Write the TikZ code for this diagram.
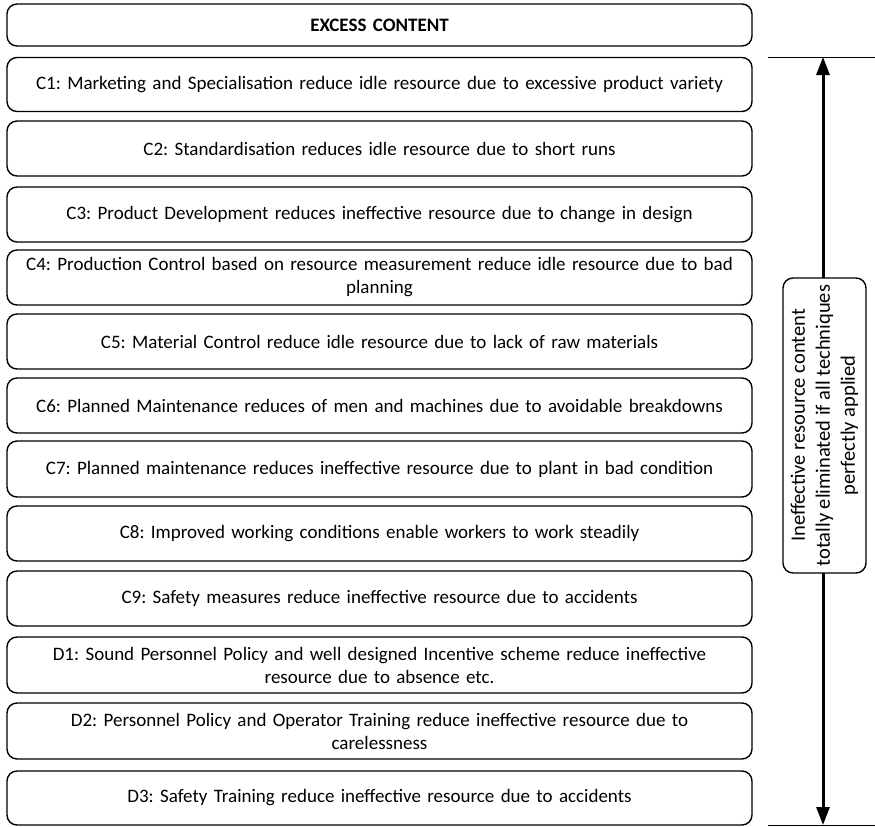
\documentclass[tikz,border=0pt]{standalone}
\usepackage{fontspec}
\setmainfont{Carlito}
\usetikzlibrary{arrows.meta}
\frenchspacing
\tikzset{
  stepbox/.style={draw=black, line width=1.4bp, rounded corners=10bp, fill=white,
    minimum width=745bp, inner sep=2bp, align=center, text width=735bp,
    font=\fontsize{19bp}{23bp}\selectfont},
  sidebox/.style={draw=black, line width=1.4bp, rounded corners=10bp, fill=white,
    minimum width=295bp, minimum height=83bp, inner sep=2bp, align=center,
    rotate=90, font=\fontsize{20.5bp}{25bp}\selectfont},
  span/.style={line width=3bp, {Triangle[length=18bp,width=13bp]}-{Triangle[length=18bp,width=13bp]}},
  guide/.style={line width=1bp}
}
\begin{document}
\begin{tikzpicture}[x=1bp,y=-1bp]
\useasboundingbox (0,0) rectangle (875,827);

% stack of technique boxes
\node[stepbox, minimum height=42bp] (ex) at (379.5,25) {\textbf{EXCESS CONTENT}};
\node[stepbox, minimum height=54bp] (c1) at (379.5,84.5) {C1: Marketing and Specialisation reduce idle resource due to excessive product variety};
\node[stepbox, minimum height=55bp] (c2) at (379.5,148.5) {C2: Standardisation reduces idle resource due to short runs};
\node[stepbox, minimum height=55bp] (c3) at (379.5,214.5) {C3: Product Development reduces ineffective resource due to change in design};
\node[stepbox, minimum height=55bp] (c4) at (379.5,277.5) {C4: Production Control based on resource measurement reduce idle resource due to bad\\planning};
\node[stepbox, minimum height=55bp] (c5) at (379.5,341.5) {C5: Material Control reduce idle resource due to lack of raw materials};
\node[stepbox, minimum height=55bp] (c6) at (379.5,405.5) {C6: Planned Maintenance reduces of men and machines due to avoidable breakdowns};
\node[stepbox, minimum height=56bp] (c7) at (379.5,469) {C7: Planned maintenance reduces ineffective resource due to plant in bad condition};
\node[stepbox, minimum height=55bp] (c8) at (379.5,533.5) {C8: Improved working conditions enable workers to work steadily};
\node[stepbox, minimum height=55bp] (c9) at (379.5,598.5) {C9: Safety measures reduce ineffective resource due to accidents};
\node[stepbox, minimum height=56bp] (d1) at (379.5,665) {D1: Sound Personnel Policy and well designed Incentive scheme reduce ineffective\\resource due to absence etc.};
\node[stepbox, minimum height=56bp] (d2) at (379.5,731) {D2: Personnel Policy and Operator Training reduce ineffective resource due to\\carelessness};
\node[stepbox, minimum height=54bp] (d3) at (379.5,798) {D3: Safety Training reduce ineffective resource due to accidents};

% range markers and span arrow
\coordinate (tl) at (768,57);
\coordinate (tr) at (875,57);
\coordinate (bl) at (768,825);
\coordinate (br) at (875,825);
\coordinate (top) at (823,57);
\coordinate (bot) at (823,825);
\draw[guide] (tl) -- (tr);
\draw[guide] (bl) -- (br);
\draw[span] (top) -- (bot);

% label across the arrow
\node[sidebox] (lbl) at (824.5,425.5) {Ineffective resource content\\totally eliminated if all techniques\\perfectly applied};
\end{tikzpicture}
\end{document}
